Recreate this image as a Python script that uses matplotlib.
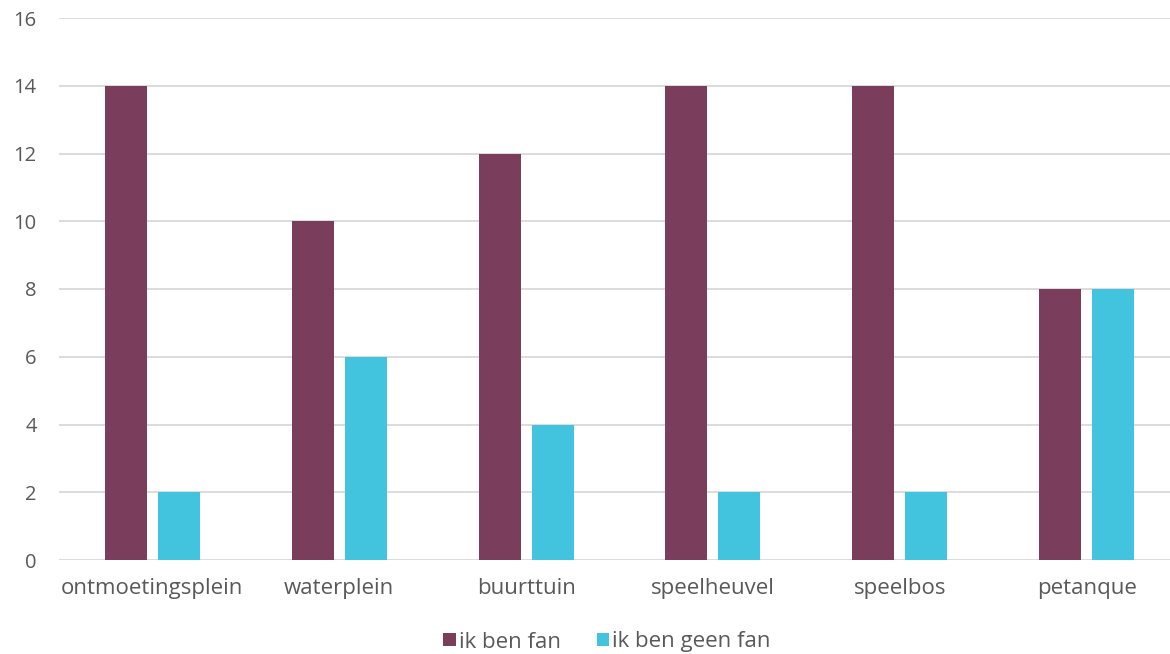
import matplotlib.pyplot as plt
import numpy as np

plt.rcParams['font.family'] = ['Open Sans', 'DejaVu Sans']

# data
categories = ['ontmoetingsplein', 'waterplein', 'buurttuin', 'speelheuvel', 'speelbos', 'petanque']
fan = [14, 10, 12, 14, 14, 8]
geen_fan = [2, 6, 4, 2, 2, 8]
series_names = ['ik ben fan', 'ik ben geen fan']

purple = '#7A3E5C'
cyan = '#42C4DE'
text_col = '#595959'

fig = plt.figure(figsize=(11.7, 6.54), dpi=100)
ax = fig.add_axes([59 / 1170, 1 - 560 / 654, 1121 / 1170, (560 - 18) / 654])

x = np.arange(len(categories))
w = 0.225
off = 0.142
ax.bar(x - off, fan, w, color=purple, label=series_names[0], zorder=3)
ax.bar(x + off, geen_fan, w, color=cyan, label=series_names[1], zorder=3)

ax.set_xlim(-0.5, len(categories) - 0.5)
ax.set_ylim(0, 16)
ax.set_yticks(range(0, 17, 2))
ax.set_xticks(x)
ax.set_xticklabels(categories)
ax.yaxis.grid(True, color='#D9D9D9', linewidth=1.3, zorder=0)
ax.tick_params(axis='both', length=0, colors=text_col)
ax.tick_params(axis='x', pad=13, labelsize=16)
ax.tick_params(axis='y', pad=16, labelsize=14.5)
for s in ax.spines.values():
    s.set_visible(False)

leg = fig.legend(loc='center', bbox_to_anchor=(607 / 1170, 1 - 642 / 654), ncol=2, frameon=False,
                 fontsize=16, handlelength=0.55, handleheight=0.55, handletextpad=0.15,
                 columnspacing=1.6)
for t in leg.get_texts():
    t.set_color(text_col)

fig.savefig('out.png', dpi=100)
